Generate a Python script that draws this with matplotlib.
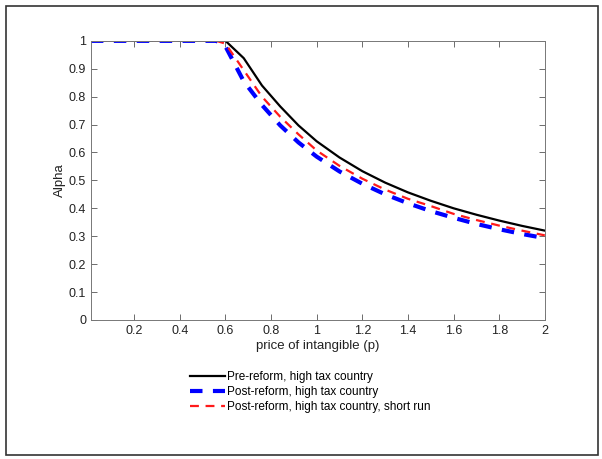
import matplotlib.pyplot as plt
from matplotlib.patches import Rectangle

plt.rcParams['font.family'] = ['Liberation Sans', 'DejaVu Sans']

# price of intangible
p = [0.01, 0.2, 0.4, 0.56, 0.6, 0.68, 0.76, 0.84, 0.92, 1.0,
     1.1, 1.2, 1.3, 1.4, 1.5, 1.6, 1.7, 1.8, 1.9, 2.0]
pre_high = [1, 1, 1, 1, 1, 0.938, 0.84, 0.765, 0.697, 0.64,
            0.582, 0.533, 0.492, 0.457, 0.427, 0.4, 0.377, 0.356, 0.337, 0.32]
post_high = [1, 1, 1, 1, 0.98, 0.855, 0.77, 0.697, 0.636, 0.585,
             0.532, 0.488, 0.45, 0.418, 0.39, 0.366, 0.344, 0.325, 0.308, 0.293]
post_short = [1, 1, 1, 1, 0.99, 0.895, 0.8, 0.728, 0.665, 0.607,
              0.552, 0.506, 0.467, 0.434, 0.408, 0.38, 0.358, 0.338, 0.32, 0.303]
labels = ['Pre-reform, high tax country',
          'Post-reform, high tax country',
          'Post-reform, high tax country, short run']

fig = plt.figure(figsize=(6.02, 4.59), dpi=100)
ax = fig.add_axes([0.151, 0.303, 0.754, 0.608])

ax.plot(p, pre_high, color='black', lw=1.6, label=labels[0])
ax.plot(p, post_high, color='#0000ff', lw=3.0, ls=(0, (3, 2.5)), label=labels[1])
ax.plot(p, post_short, color='#ff1a1a', lw=1.6, ls=(0, (4, 3)), label=labels[2])

ax.set_xlim(0.01, 2)
ax.set_ylim(0, 1)
ax.set_xticks([0.2, 0.4, 0.6, 0.8, 1, 1.2, 1.4, 1.6, 1.8, 2])
ax.set_xticklabels(['0.2', '0.4', '0.6', '0.8', '1', '1.2', '1.4', '1.6', '1.8', '2'])
ax.set_yticks([i / 10 for i in range(11)])
ax.set_yticklabels(['0'] + ['0.%d' % i for i in range(1, 10)] + ['1'])
ax.tick_params(direction='in', top=True, right=True, length=4, width=0.6,
               color='#555555', labelsize=9, labelcolor='#222222')
for s in ax.spines.values():
    s.set_color('#777777')
    s.set_linewidth(0.7)
ax.set_xlabel('price of intangible (p)', fontsize=9.5, labelpad=2, color='#222222')
ax.set_ylabel('Alpha', fontsize=9.5, labelpad=2, color='#222222')

fig.legend(loc='upper left', bbox_to_anchor=(0.305, 0.205), frameon=False,
           fontsize=8.5, handlelength=3, handletextpad=0.2, labelspacing=0.25,
           borderpad=0)

# outer frame
fig.add_artist(Rectangle((0.01, 0.008), 0.983, 0.978, transform=fig.transFigure,
                         fill=False, edgecolor='#333333', lw=1.2))

fig.savefig('out.png', dpi=100)
